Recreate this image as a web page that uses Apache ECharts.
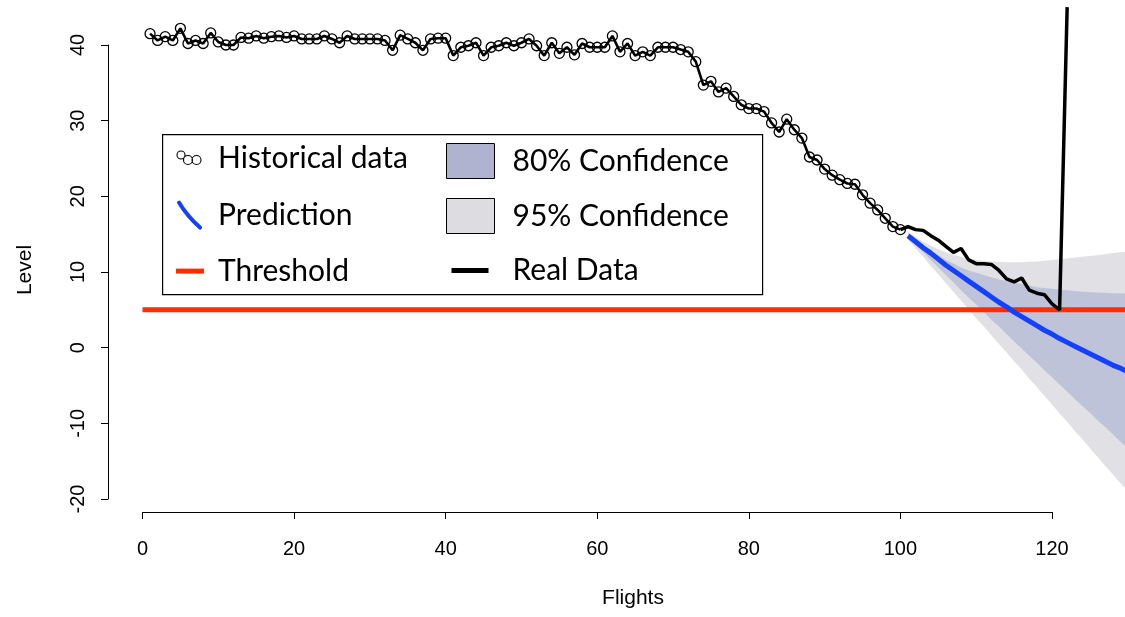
<!DOCTYPE html>
<html><head><meta charset="utf-8">
<script src="https://cdn.jsdelivr.net/npm/echarts@6/dist/echarts.min.js"></script>
<style>html,body{margin:0;padding:0;background:#fff}#chart{width:1125px;height:617px}</style>
</head><body><div id="chart"></div>
<script>
// ---------------- data ----------------
const historicalLevel = [
  41.5, 40.6, 41.1, 40.6, 42.2, 40.2, 40.6, 40.2, 41.6, 40.4,
  40.0, 40.0, 41.0, 40.9, 41.2, 40.9, 41.1, 41.2, 41.0, 41.2,
  40.8, 40.8, 40.8, 41.2, 40.8, 40.3, 41.2, 40.8, 40.8, 40.8,
  40.8, 40.6, 39.3, 41.3, 40.8, 40.3, 39.3, 40.8, 40.9, 40.9,
  38.6, 39.7, 39.9, 40.3, 38.6, 39.7, 39.9, 40.3, 39.9, 40.3,
  40.8, 39.9, 38.6, 40.3, 38.9, 39.7, 38.7, 40.2, 39.7, 39.7,
  39.7, 41.2, 39.1, 40.2, 38.6, 39.1, 38.6, 39.7, 39.7, 39.7,
  39.4, 39.1, 37.8, 34.7, 35.2, 33.8, 34.3, 33.2, 32.1, 31.6,
  31.6, 31.2, 29.7, 28.5, 30.2, 28.8, 27.7, 25.2, 24.8, 23.6,
  22.8, 22.2, 21.7, 21.6, 20.2, 19.1, 18.2, 17.1, 16.0, 15.6
];
const realX = [100,101,102,103,104,105,106,107,108,109,110,111,112,113,114,115,116,117,118,119,120,121,122];
const realLevel = [15.6,16.0,15.6,15.5,14.8,14.2,13.4,12.6,13.1,11.6,11.1,11.1,11.0,10.2,9.1,8.7,9.2,7.6,7.2,7.0,5.8,5.0,45.0];

const forecastX = [101,102,103,104,105,106,107,108,109,110,111,112,113,114,115,116,117,118,119,120,121,122,123,124,125,126,127,128,129,130];
const prediction = [14.8,14.0,13.2,12.5,11.7,10.9,10.2,9.5,8.8,8.1,7.4,6.7,6.0,5.4,4.7,4.1,3.5,2.9,2.3,1.8,1.2,0.7,0.2,-0.3,-0.8,-1.3,-1.8,-2.3,-2.7,-3.2];
const upper80 = [15.0,14.2,13.5,12.8,12.2,11.6,11.1,10.6,10.2,9.9,9.6,9.3,9.0,8.8,8.6,8.4,8.2,8.0,7.9,7.8,7.7,7.6,7.5,7.4,7.35,7.3,7.25,7.2,7.2,7.15];
const lower80 = [14.6,13.6,12.6,11.6,10.6,9.6,8.6,7.6,6.6,5.7,4.7,3.7,2.8,1.8,0.8,-0.1,-1.1,-2.0,-3.0,-3.9,-4.9,-5.8,-6.8,-7.7,-8.6,-9.6,-10.5,-11.4,-12.4,-13.3];
const upper95 = [15.3,14.6,14.0,13.5,13.0,12.6,12.3,12.0,11.8,11.6,11.5,11.4,11.35,11.3,11.3,11.3,11.35,11.4,11.5,11.6,11.7,11.8,11.9,12.0,12.1,12.2,12.35,12.5,12.6,12.7];
const lower95 = [14.3,13.1,12.0,10.8,9.7,8.5,7.4,6.2,5.1,3.9,2.8,1.6,0.5,-0.6,-1.8,-2.9,-4.1,-5.2,-6.4,-7.5,-8.7,-9.8,-11.0,-12.1,-13.3,-14.4,-15.6,-16.7,-17.9,-19.0];

const thresholdX = [0, 130];
const thresholdLevel = 5;

const xTickMin = 0, xTickMax = 120, xTickStep = 20;
const yTickMin = -20, yTickMax = 40, yTickStep = 10;

const labels = {
  x: 'Flights', y: 'Level',
  hist: 'Historical data', pred: 'Prediction', thr: 'Threshold',
  c80: '80% Confidence', c95: '95% Confidence', real: 'Real Data'
};

// ---------------- layout (pixels) ----------------
const L = {
  plotLeft: 108, plotTop: 5, plotRight: 1125, plotBottom: 512,
  xAxisStart: 142.5, xAxisEnd: 1052,
  yAxisTop: 45, yAxisBottom: 499
};
const xPer = (L.xAxisEnd - L.xAxisStart) / (xTickMax - xTickMin);
const yPer = (L.yAxisBottom - L.yAxisTop) / (yTickMax - yTickMin);
const XMIN = xTickMin - (L.xAxisStart - L.plotLeft) / xPer;
const XMAX = xTickMin + (L.plotRight - L.xAxisStart) / xPer;
const YMAX = yTickMax + (L.yAxisTop - L.plotTop) / yPer;
const YMIN = yTickMin - (L.plotBottom - L.yAxisBottom) / yPer;

const COL = {
  red: '#ff2d00', blue: '#1441ff',
  band80: '#bec3da', band95: '#e1e1e5',
  leg80: '#afb3d0', leg95: '#dcdce1'
};

function bandSeries(name, lower, upper, color) {
  return {
    name, type: 'custom', xAxisIndex: 0, yAxisIndex: 0,
    data: forecastX.map((x, i) => [x, lower[i], upper[i]]),
    encode: { x: 0, y: [1, 2] },
    silent: true,
    renderItem: function (params, api) {
      if (params.dataIndex !== 0) return null;
      const pts = [];
      for (let i = 0; i < forecastX.length; i++) pts.push(api.coord([forecastX[i], upper[i]]));
      for (let i = forecastX.length - 1; i >= 0; i--) pts.push(api.coord([forecastX[i], lower[i]]));
      return { type: 'polygon', shape: { points: pts }, style: { fill: color } };
    }
  };
}

const axisFont = 'Liberation Sans';
const legFont = 'Lato';

const ICON_HIST = 'path://M0,0 M39,30 M3,11.5 a4,4 0 1,0 8,0 a4,4 0 1,0 -8,0 M9.5,16.5 a4.5,4.5 0 1,0 9,0 a4.5,4.5 0 1,0 -9,0 M18,16.5 a4.5,4.5 0 1,0 9,0 a4.5,4.5 0 1,0 -9,0';
const ICON_PRED = 'path://M0,0 M39,30 M5,2.5 Q13,16 26,27.5';
const ICON_THR = 'path://M0,0 M39,30 M2,12.5 L30,12.5 L30,17.5 L2,17.5 Z';
const ICON_REAL = 'path://M0,0 M48,35 M5,15 L42,15 L42,20 L5,20 Z';

const chart = echarts.init(document.getElementById('chart'), null, { renderer: 'canvas' });
chart.setOption({
  animation: false,
  backgroundColor: '#fff',
  grid: [
    { left: L.plotLeft, top: L.plotTop, width: L.plotRight - L.plotLeft, height: L.plotBottom - L.plotTop },
    { left: L.xAxisStart, top: L.plotBottom - 100, width: L.xAxisEnd - L.xAxisStart, height: 100 },
    { left: L.plotLeft, top: L.yAxisTop, width: 100, height: L.yAxisBottom - L.yAxisTop }
  ],
  xAxis: [
    { gridIndex: 0, type: 'value', min: XMIN, max: XMAX, show: false },
    { gridIndex: 1, type: 'value', min: xTickMin, max: xTickMax, interval: xTickStep, position: 'bottom',
      axisLine: { show: true, lineStyle: { color: '#000', width: 1 } },
      axisTick: { show: true, length: 7, lineStyle: { color: '#000', width: 1 } },
      splitLine: { show: false },
      axisLabel: { color: '#000', fontSize: 20, fontFamily: axisFont, margin: 27 } },
    { gridIndex: 2, type: 'value', min: 0, max: 1, show: false }
  ],
  yAxis: [
    { gridIndex: 0, type: 'value', min: YMIN, max: YMAX, show: false },
    { gridIndex: 1, type: 'value', min: 0, max: 1, show: false },
    { gridIndex: 2, type: 'value', min: yTickMin, max: yTickMax, interval: yTickStep, position: 'left',
      axisLine: { show: true, lineStyle: { color: '#000', width: 1 } },
      axisTick: { show: true, length: 7, lineStyle: { color: '#000', width: 1 } },
      splitLine: { show: false },
      axisLabel: { color: '#000', fontSize: 20, fontFamily: axisFont, margin: 20, rotate: 90 } }
  ],
  legend: [
    { orient: 'vertical', left: 172, top: 143, itemWidth: 39, itemHeight: 30, itemGap: 24,
      selectedMode: false, padding: 0,
      textStyle: { fontFamily: legFont, fontSize: 30, color: '#000', lineHeight: 30 },
      data: [
        { name: labels.hist, icon: ICON_HIST, itemStyle: { color: 'rgba(0,0,0,0)', borderColor: '#000', borderWidth: 1.1 } },
        { name: labels.pred, icon: ICON_PRED, itemStyle: { color: 'rgba(0,0,0,0)', borderColor: COL.blue, borderWidth: 4, borderCap: 'round' } },
        { name: labels.thr, icon: ICON_THR, itemStyle: { color: COL.red, borderWidth: 0 } }
      ] },
    { orient: 'vertical', left: 446, top: 143, itemWidth: 48, itemHeight: 35, itemGap: 19,
      selectedMode: false, padding: 0,
      textStyle: { fontFamily: legFont, fontSize: 30, color: '#000', lineHeight: 30, padding: [0, 0, 0, 13] },
      data: [
        { name: labels.c80, icon: 'rect', itemStyle: { color: COL.leg80, borderColor: '#000', borderWidth: 1 } },
        { name: labels.c95, icon: 'rect', itemStyle: { color: COL.leg95, borderColor: '#000', borderWidth: 1 } },
        { name: labels.real, icon: ICON_REAL, itemStyle: { color: '#000', borderWidth: 0 } }
      ] }
  ],
  graphic: [
    { type: 'rect', left: 162, top: 134, shape: { width: 600, height: 160 }, style: { fill: 'rgba(0,0,0,0)', stroke: '#000', lineWidth: 1.2 }, silent: true },
    { type: 'text', x: 633, y: 598, style: { text: labels.x, fontSize: 21, fontFamily: axisFont, fill: '#000', align: 'center', verticalAlign: 'middle' } },
    { type: 'text', x: 25, y: 270, rotation: Math.PI / 2, style: { text: labels.y, fontSize: 21, fontFamily: axisFont, fill: '#000', align: 'center', verticalAlign: 'middle' } }
  ],
  series: [
    bandSeries(labels.c95, lower95, upper95, COL.band95),
    bandSeries(labels.c80, lower80, upper80, COL.band80),
    { name: labels.thr, type: 'line', xAxisIndex: 0, yAxisIndex: 0,
      data: thresholdX.map(x => [x, thresholdLevel]), showSymbol: false, symbol: 'none',
      lineStyle: { color: COL.red, width: 5 }, itemStyle: { color: COL.red }, silent: true },
    { name: labels.pred, type: 'line', xAxisIndex: 0, yAxisIndex: 0,
      data: forecastX.map((x, i) => [x, prediction[i]]), symbol: 'none',
      lineStyle: { color: COL.blue, width: 5 }, itemStyle: { color: COL.blue }, silent: true },
    { name: labels.hist, type: 'line', xAxisIndex: 0, yAxisIndex: 0,
      data: historicalLevel.map((v, i) => [i + 1, v]),
      symbol: 'circle', symbolSize: 10, showAllSymbol: true,
      lineStyle: { color: '#000', width: 2.6 },
      itemStyle: { color: 'rgba(0,0,0,0)', borderColor: '#000', borderWidth: 1.3 },
      emphasis: { disabled: true }, silent: true },
    { name: labels.real, type: 'line', xAxisIndex: 0, yAxisIndex: 0,
      data: realX.map((x, i) => [x, realLevel[i]]), symbol: 'none',
      lineStyle: { color: '#000', width: 3.5 }, itemStyle: { color: '#000' }, silent: true }
  ]
});
</script></body></html>
